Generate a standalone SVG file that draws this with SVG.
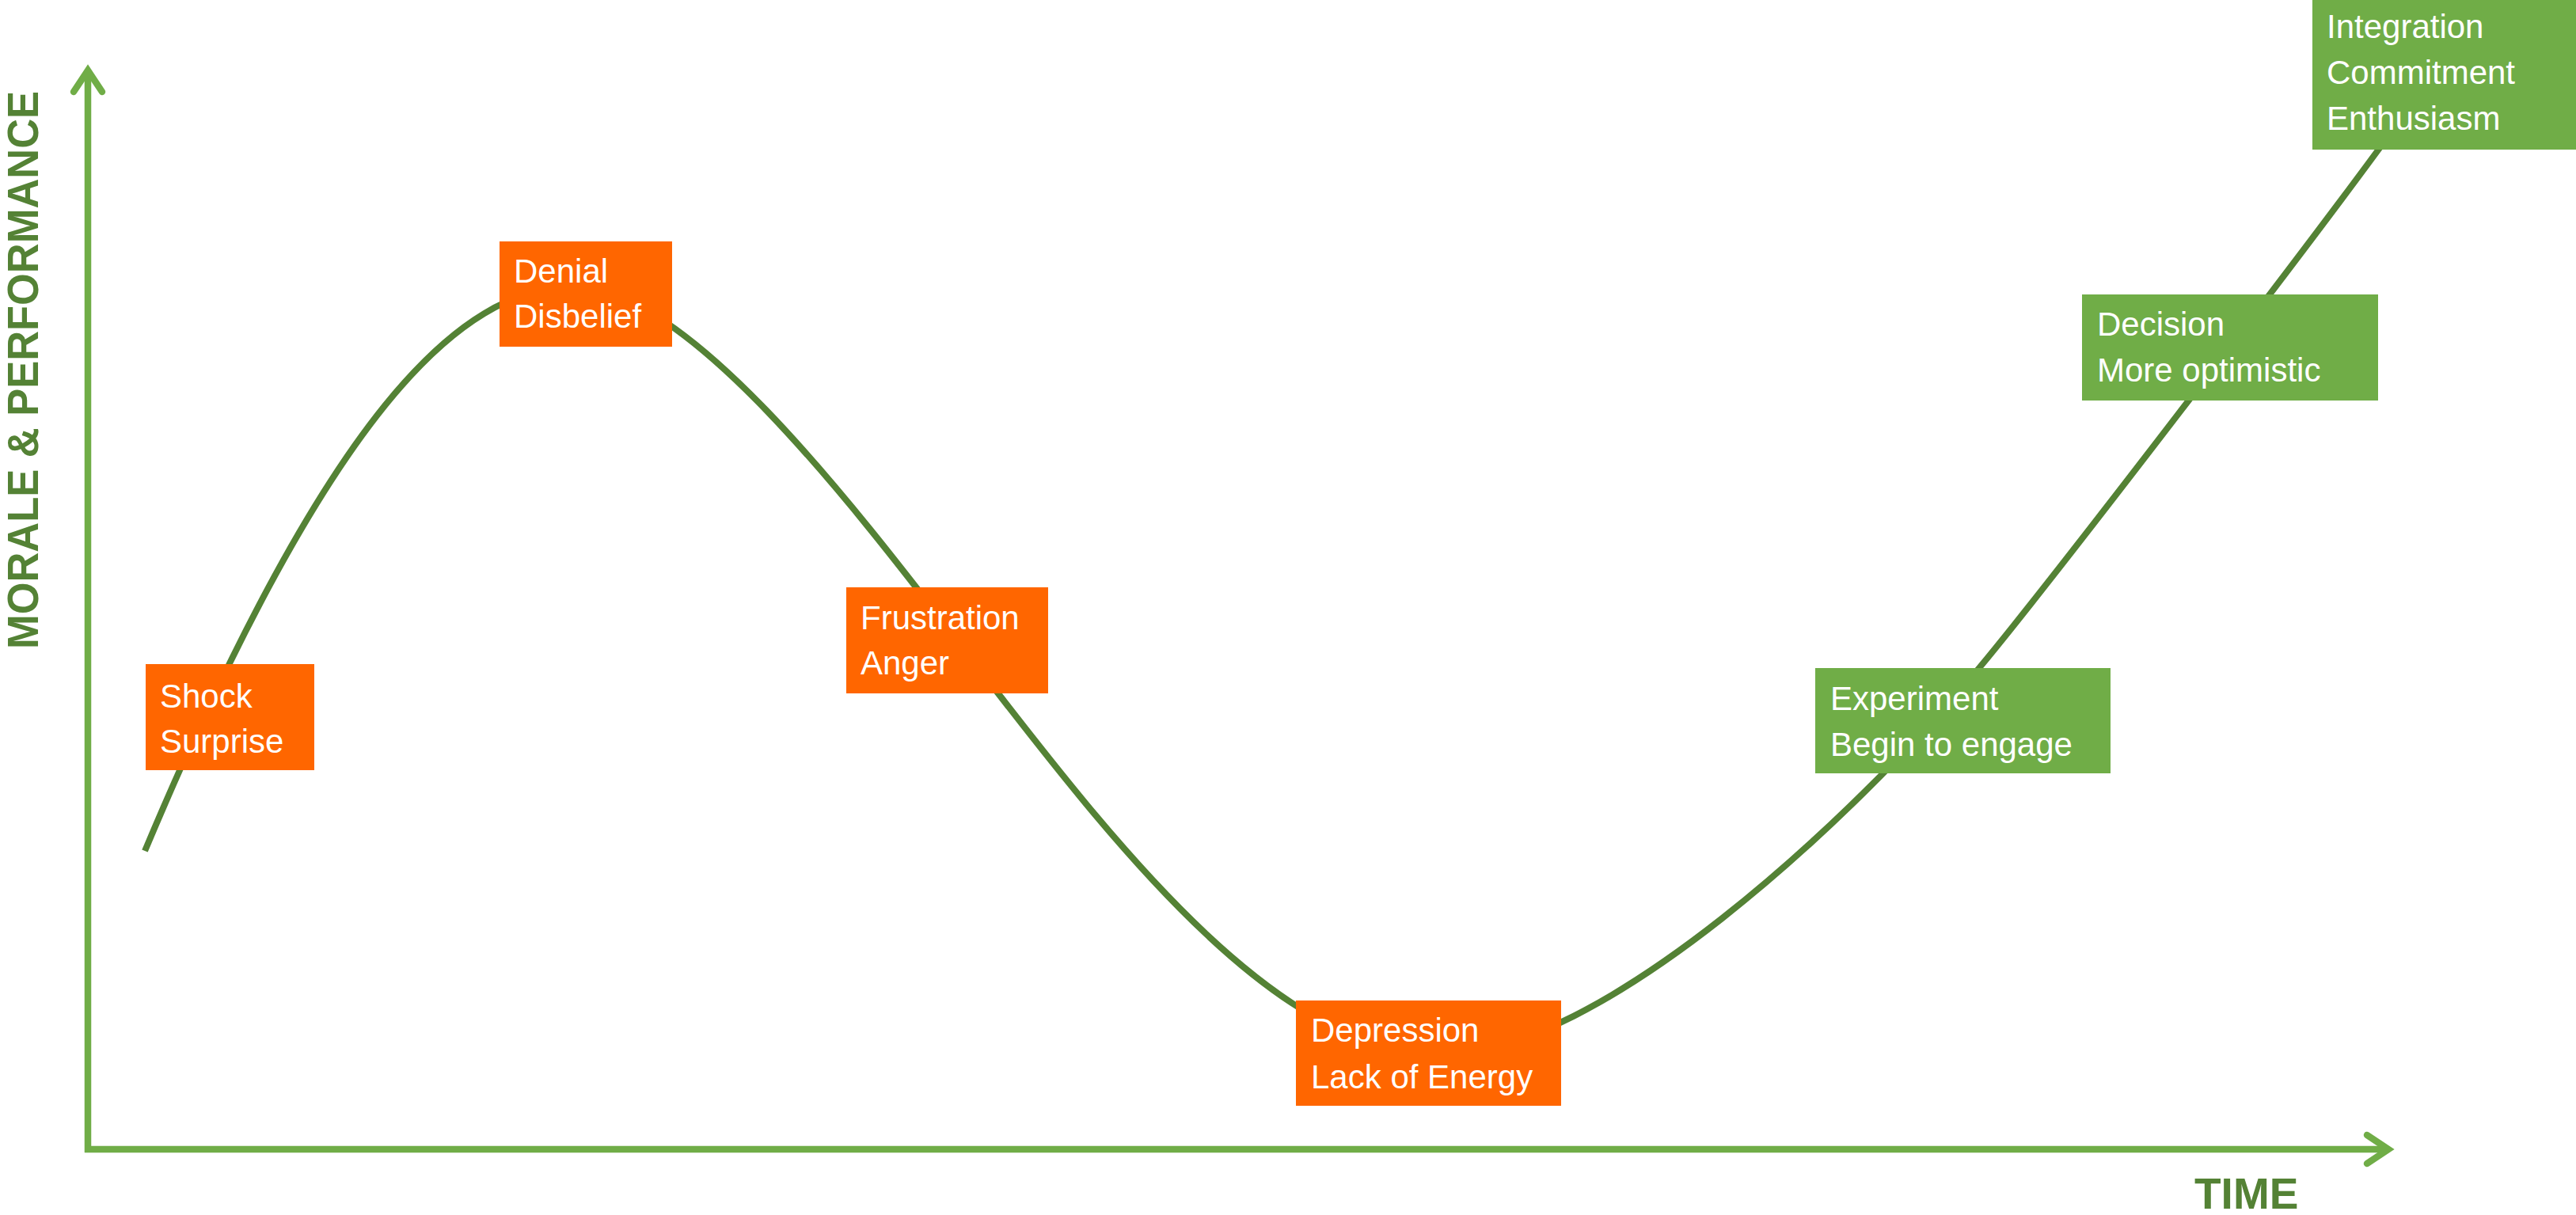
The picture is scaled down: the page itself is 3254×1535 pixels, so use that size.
<svg xmlns="http://www.w3.org/2000/svg" width="3254" height="1535" viewBox="0 0 3254 1535">
<style>
.axis{fill:none;stroke:#70AD47;stroke-width:8.5;stroke-linecap:butt}
.curve{fill:none;stroke:#548235;stroke-width:8;stroke-linecap:butt;stroke-linejoin:round}
.orange{fill:#FF6600}
.green{fill:#70AD47}
.lbl{font-family:"Liberation Sans",Arial,sans-serif;font-size:42px;fill:#FFFFFF}
.axt{font-family:"Liberation Sans",Arial,sans-serif;font-weight:bold;fill:#548235}
</style>
<defs>
<marker id="arr" markerUnits="userSpaceOnUse" viewBox="-40 -30 60 60" markerWidth="60" markerHeight="60" refX="0" refY="0" orient="auto" overflow="visible">
<path d="M-27,-18 L0,0 L-27,18" fill="none" stroke="#70AD47" stroke-width="8.5" stroke-linecap="round" stroke-linejoin="miter"/>
</marker>
</defs>
<rect width="3254" height="1535" fill="#FFFFFF"/>
<g id="axes">
<line class="axis" x1="111" y1="1456" x2="111" y2="89" marker-end="url(#arr)"/>
<line class="axis" x1="107" y1="1452" x2="3017" y2="1452" marker-end="url(#arr)"/>
<text class="axt" font-size="56" transform="translate(48,820) rotate(-90)" textLength="705" lengthAdjust="spacingAndGlyphs">MORALE &amp; PERFORMANCE</text>
<text class="axt" font-size="55" x="2772" y="1527">TIME</text>
</g>
<g id="connectors">
<path class="curve" d="M183,1075 C414,525 580,362 725,362 C875,362 1097.5,664.5 1250,862 C1420.8,1083.2 1620,1333 1820,1333 C2020,1333 2340,1036 2500,844 C2596,728.8 2914.2,311.9 3003,191 L3040,141"/>
</g>
<g id="shock">
<rect class="orange" x="184" y="839" width="213" height="134"/>
<text class="lbl"><tspan x="202" y="894">Shock</tspan><tspan x="202" y="951">Surprise</tspan></text>
</g>
<g id="denial">
<rect class="orange" x="631" y="305" width="218" height="133"/>
<text class="lbl"><tspan x="649" y="357">Denial</tspan><tspan x="649" y="414">Disbelief</tspan></text>
</g>
<g id="frustration">
<rect class="orange" x="1069" y="742" width="255" height="134"/>
<text class="lbl"><tspan x="1087" y="795">Frustration</tspan><tspan x="1087" y="852">Anger</tspan></text>
</g>
<g id="depression">
<rect class="orange" x="1637" y="1264" width="335" height="133"/>
<text class="lbl"><tspan x="1656" y="1316">Depression</tspan><tspan x="1656" y="1375">Lack of Energy</tspan></text>
</g>
<g id="experiment">
<rect class="green" x="2293" y="844" width="373" height="133"/>
<text class="lbl"><tspan x="2312" y="897">Experiment</tspan><tspan x="2312" y="955">Begin to engage</tspan></text>
</g>
<g id="decision">
<rect class="green" x="2630" y="372" width="374" height="134"/>
<text class="lbl"><tspan x="2649" y="424">Decision</tspan><tspan x="2649" y="482">More optimistic</tspan></text>
</g>
<g id="integration">
<rect class="green" x="2921" y="-5" width="340" height="194"/>
<text class="lbl"><tspan x="2939" y="48">Integration</tspan><tspan x="2939" y="106">Commitment</tspan><tspan x="2939" y="164">Enthusiasm</tspan></text>
</g>
</svg>
